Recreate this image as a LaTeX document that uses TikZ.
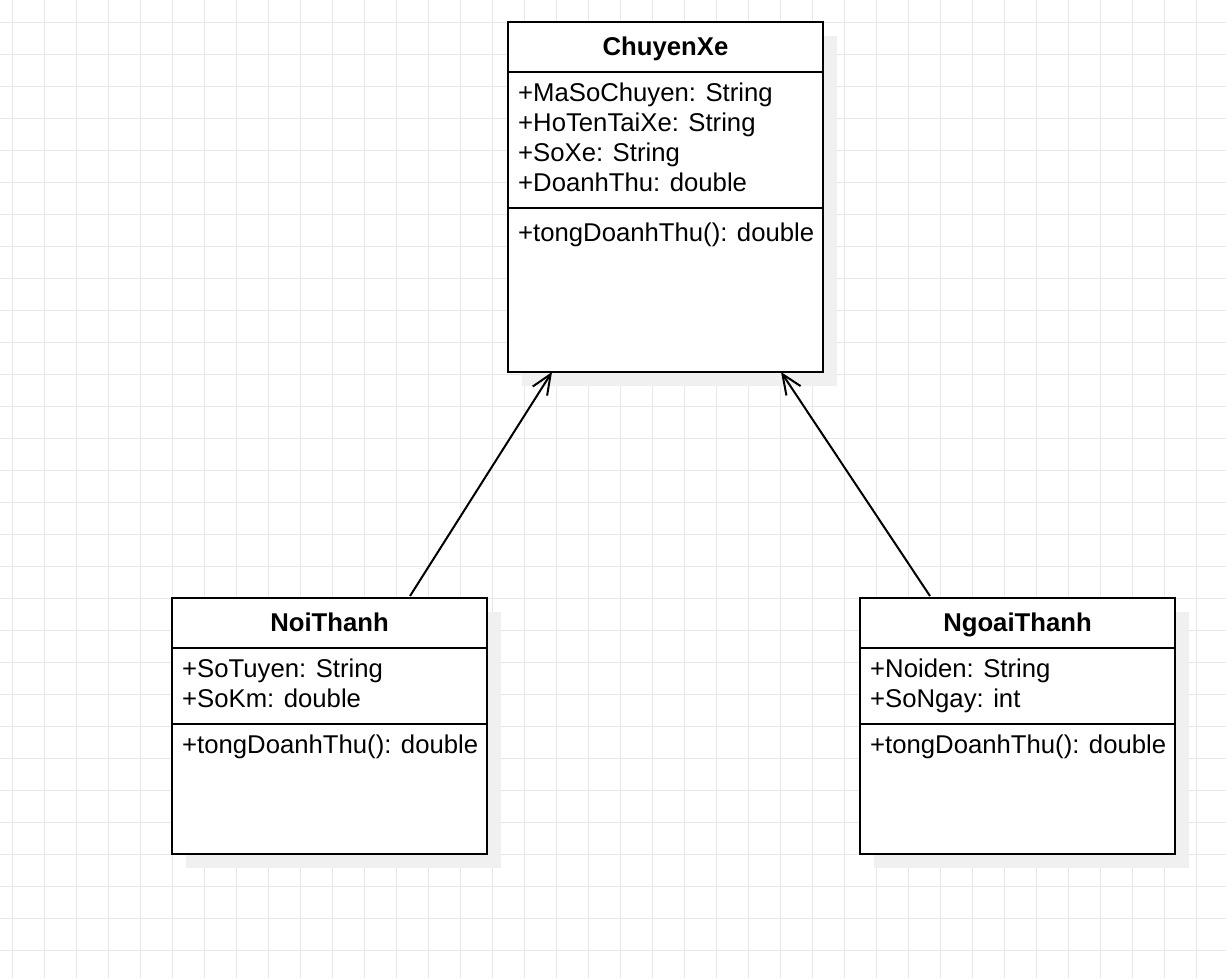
\documentclass[tikz,border=0pt]{standalone}
\usepackage{fontspec}
\setmainfont{Liberation Sans}
\usetikzlibrary{arrows.meta,calc,shadows}
\definecolor{gridc}{RGB}{232,232,232}
\definecolor{shadowc}{RGB}{240,240,240}
\begin{document}
\begin{tikzpicture}[x=1pt,y=-1pt,
  gridline/.style={draw=gridc,line width=1pt},
  classbox/.style={draw=black,line width=2pt,fill=white,minimum width=315pt,inner sep=0pt,outer sep=0pt,
    drop shadow={shadow xshift=14pt,shadow yshift=-14pt,fill=shadowc,opacity=1}},
  divider/.style={draw=black,line width=2pt},
  titletext/.style={anchor=base,inner sep=0pt,font=\fontsize{25.7}{30}\selectfont\bfseries},
  attrtext/.style={anchor=base west,inner sep=0pt,font=\fontsize{25.7}{30}\selectfont},
  inherit/.style={draw=black,line width=2pt,-{Straight Barb[length=20pt,width=17pt,line width=2pt]}}
]
\useasboundingbox (0,0) rectangle (1226,978);
\fill[white] (0,0) rectangle (1226,978);
\foreach \x in {12,44,...,1226} \draw[gridline] (\x,0) -- (\x,978);
\foreach \y in {22,54,...,978} \draw[gridline] (0,\y) -- (1226,\y);

% ChuyenXe
\node[classbox,minimum height=350pt] (cx) at (665.5,197) {};
\draw[divider] ($(cx.north west)+(0,50)$) -- ($(cx.north east)+(0,50)$);
\draw[divider] ($(cx.north west)+(0,186)$) -- ($(cx.north east)+(0,186)$);
\node[titletext] (cxt) at ($(cx.north)+(0,33)$) {ChuyenXe};
\node[attrtext] (cxa1) at ($(cx.north west)+(10,79)$) {+MaSoChuyen: String};
\node[attrtext] (cxa2) at ($(cx.north west)+(10,109)$) {+HoTenTaiXe: String};
\node[attrtext] (cxa3) at ($(cx.north west)+(10,139)$) {+SoXe: String};
\node[attrtext] (cxa4) at ($(cx.north west)+(10,169)$) {+DoanhThu: double};
\node[attrtext] (cxm1) at ($(cx.north west)+(10,219)$) {+tongDoanhThu(): double};

% NoiThanh
\node[classbox,minimum height=256pt] (nt) at (329.5,726) {};
\draw[divider] ($(nt.north west)+(0,50)$) -- ($(nt.north east)+(0,50)$);
\draw[divider] ($(nt.north west)+(0,126)$) -- ($(nt.north east)+(0,126)$);
\node[titletext] (ntt) at ($(nt.north)+(0,33)$) {NoiThanh};
\node[attrtext] (nta1) at ($(nt.north west)+(10,79)$) {+SoTuyen: String};
\node[attrtext] (nta2) at ($(nt.north west)+(10,109)$) {+SoKm: double};
\node[attrtext] (ntm1) at ($(nt.north west)+(10,155)$) {+tongDoanhThu(): double};

% NgoaiThanh
\node[classbox,minimum height=256pt] (gt) at (1017.5,726) {};
\draw[divider] ($(gt.north west)+(0,50)$) -- ($(gt.north east)+(0,50)$);
\draw[divider] ($(gt.north west)+(0,126)$) -- ($(gt.north east)+(0,126)$);
\node[titletext] (gtt) at ($(gt.north)+(0,33)$) {NgoaiThanh};
\node[attrtext] (gta1) at ($(gt.north west)+(10,79)$) {+Noiden: String};
\node[attrtext] (gta2) at ($(gt.north west)+(10,109)$) {+SoNgay: int};
\node[attrtext] (gtm1) at ($(gt.north west)+(10,155)$) {+tongDoanhThu(): double};

% connectors
\draw[inherit] ($(nt.north west)!0.7556!(nt.north east)+(0,-2)$) -- ($(cx.south west)!0.1397!(cx.south east)$);
\draw[inherit] ($(gt.north west)!0.2222!(gt.north east)+(0,-2)$) -- ($(cx.south west)!0.8667!(cx.south east)$);
\end{tikzpicture}
\end{document}
